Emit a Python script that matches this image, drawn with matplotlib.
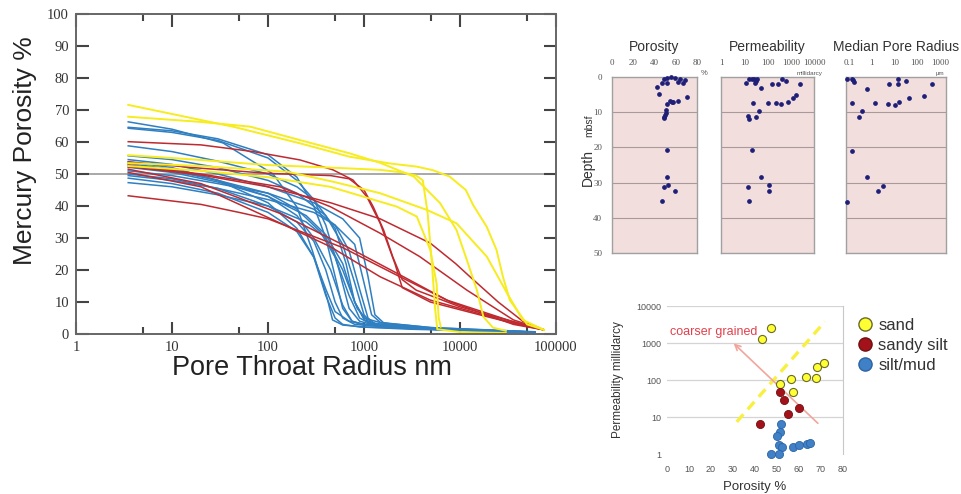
import matplotlib
matplotlib.use("Agg")
import matplotlib.pyplot as plt
from matplotlib.lines import Line2D
from matplotlib.ticker import FixedLocator, NullFormatter

plt.rcParams['font.family'] = ['Liberation Sans', 'DejaVu Sans']

# ---------------- main chart: pore throat radius (nm) vs mercury porosity (%)
blue_curves = [
    ([3.5, 10, 34, 113, 200, 290, 410, 470, 600, 1000, 5000, 30000, 60000],
     [66.3, 64, 59.7, 50, 39.7, 26, 11.6, 4.4, 2.8, 2.2, 1.5, 0.8, 0.5]),
    ([3.5, 10, 30, 100, 200, 300, 400, 500, 600, 750, 1000, 5000, 60000],
     [64.6, 63.5, 61, 56, 49, 40, 30, 18, 8, 4, 3, 1.5, 0.5]),
    ([3.5, 10, 30, 100, 200, 300, 400, 550, 700, 900, 1200, 5000, 60000],
     [64.3, 63, 60.5, 55, 48, 42, 34, 20, 8, 4, 3, 1.5, 0.6]),
    ([3.5, 10, 30, 100, 200, 300, 500, 650, 800, 1000, 1500, 5000, 60000],
     [58.8, 57, 54, 50, 46, 42, 33, 22, 10, 5, 3.5, 1.5, 0.5]),
    ([3.5, 10, 30, 100, 200, 400, 600, 800, 1000, 1200, 2000, 10000, 60000],
     [55.7, 54.5, 52, 48, 44, 37, 28, 16, 6, 3.5, 2.5, 1.2, 0.5]),
    ([3.5, 10, 30, 100, 200, 300, 400, 500, 600, 900, 3000, 60000],
     [53.8, 52, 48, 41, 33, 24, 12, 5, 3, 2.2, 1.5, 0.5]),
    ([3.5, 10, 30, 100, 200, 300, 450, 600, 750, 1000, 3000, 60000],
     [53.3, 51.5, 48, 43, 37, 30, 20, 9, 4, 2.8, 1.8, 0.5]),
    ([3.5, 10, 30, 100, 200, 350, 500, 700, 900, 1200, 3000, 60000],
     [52.8, 51, 48, 44, 39, 32, 24, 12, 5, 3, 2, 0.6]),
    ([3.5, 10, 30, 100, 250, 400, 600, 800, 1000, 1300, 3000, 60000],
     [52.1, 50.5, 47.5, 43, 37, 31, 22, 10, 4.5, 3, 2, 0.6]),
    ([3.5, 10, 30, 100, 200, 300, 400, 500, 700, 1000, 5000, 60000],
     [48.7, 47, 44, 38, 32, 24, 14, 7, 4, 3, 1.5, 0.5]),
    ([3.5, 10, 30, 100, 250, 400, 600, 850, 1100, 1400, 5000, 60000],
     [47.3, 46, 43.5, 40, 35, 30, 20, 8, 4, 3, 1.8, 0.6]),
    ([3.5, 10, 30, 100, 300, 500, 700, 900, 1100, 1300, 3000, 60000],
     [51, 49.5, 47, 44, 39, 34, 26, 14, 5, 3.2, 2, 0.5]),
    ([3.5, 10, 30, 100, 200, 300, 400, 500, 600, 800, 2000, 60000],
     [50, 48.5, 45.5, 40, 35, 29, 20, 10, 5, 3, 2, 0.5]),
    ([3.5, 10, 30, 100, 300, 600, 900, 1100, 1300, 1600, 5000, 60000],
     [54.5, 53, 50, 46, 41, 36, 30, 18, 6, 3.5, 2, 0.6]),
    ([3.5, 10, 30, 100, 300, 500, 800, 1000, 1200, 1500, 5000, 60000],
     [49.5, 48, 45.5, 42, 38, 34, 28, 16, 6, 3.5, 2, 0.7]),
]

red_curves = [
    ([3.5, 20, 70, 215, 475, 770, 1070, 1470, 2100, 2500, 4900, 16000, 40000, 75000],
     [60.1, 59.1, 57, 54.4, 51.3, 48.1, 42.9, 34.7, 22, 14.5, 10, 6, 3, 1.3]),
    ([3.5, 20, 100, 450, 700, 1000, 1250, 1600, 2000, 2500, 3500, 10000, 30000, 75000],
     [53.8, 51.8, 50.2, 49.5, 48.5, 45, 39.7, 32.5, 24, 17, 13.7, 8.5, 4.5, 1.3]),
    ([3.5, 20, 100, 450, 1470, 4900, 9000, 12800, 25000, 45000, 75000],
     [52.3, 49.7, 46, 41, 36, 28.4, 22, 17.8, 10, 4, 1.3]),
    ([3.5, 20, 133, 445, 1470, 3800, 11800, 36000, 75000],
     [52.8, 50, 46, 39.8, 31.5, 24.2, 13.7, 4.4, 1.3]),
    ([3.5, 20, 133, 660, 2200, 7300, 36000, 75000],
     [51.5, 47, 37.7, 27.3, 19, 10.6, 3.8, 1.3]),
    ([3.5, 20, 133, 445, 1470, 4900, 36000, 75000],
     [50.5, 46, 34.7, 27.3, 17.9, 10.6, 3.4, 1.3]),
    ([3.5, 20, 50, 100, 200, 600, 2000, 8000, 36000, 75000],
     [43.2, 40.5, 38, 36, 32.5, 27, 19, 10, 3, 1.3]),
]

yellow_curves = [
    ([3.5, 43, 215, 710, 1850, 3550, 5200, 7800, 11500, 13700, 19000, 24000, 28000, 33000, 50000, 75000],
     [71.6, 64.8, 59.6, 55.4, 53.3, 52.3, 51.2, 49.2, 45, 40.3, 33.5, 26.3, 17.9, 10.6, 3, 1.3]),
    ([3.5, 19.5, 65, 215, 700, 1470, 3300, 6200, 9200, 11800, 15000, 17500, 22000, 30000],
     [67.9, 66.3, 64.8, 60.6, 56.5, 53.5, 49.2, 40.9, 32.5, 23.1, 13.7, 5.4, 2, 1]),
    ([3.5, 19.5, 98, 445, 1470, 2500, 3500, 4100, 4600, 5100, 5500, 5800, 10000, 30000],
     [55.9, 54.4, 52.8, 52, 51.3, 50.5, 49.5, 48, 37.8, 22, 8, 1.5, 0.6, 0.3]),
    ([3.5, 20, 160, 475, 1470, 4500, 9200, 19000, 31000, 45000, 75000],
     [53.4, 52.5, 50.7, 47.6, 44, 38.8, 34.6, 24.2, 12.7, 4.4, 1.3]),
    ([3.5, 20, 100, 445, 2200, 3550, 4900, 5700, 6000, 6300],
     [52.5, 51, 49, 46, 39.8, 36.7, 26.3, 15.8, 5, 2.3]),
]

x_ticks = [1, 10, 100, 1000, 10000, 100000]
x_tick_labels = ['1', '10', '100', '1000', '10000', '100000']
x_minor = [5, 50, 500, 5000, 50000]

# ---------------- depth profiles (value, depth mbsf)
por_val = [42, 44.2, 46.8, 49.2, 51.5, 51.5, 55.5, 59.3, 62.4, 64, 66.5, 68.7, 70.3, 62.4, 56.2,
           57.1, 54.6, 51.5, 50.8, 50.5, 49.9, 49.2, 48.9, 51.5, 51.5, 49.2, 53, 59.6, 47]
por_dep = [2.75, 4.9, 1.8, 0.6, 1.6, 0.4, 0.1, 0.4, 1.3, 0.7, 1.8, 0.9, 5.8, 6.7, 7.0,
           7.2, 6.8, 7.7, 9.4, 10.3, 10.8, 11.3, 11.7, 20.7, 28.3, 31.2, 30.7, 32.3, 35.1]

perm_val = [11.5, 16.5, 21, 27, 32, 30, 34, 53, 151, 294, 405, 627, 2500, 24.5, 108, 225, 380, 740,
            1200, 1700, 43, 31, 15, 16.5, 21, 53, 15, 116, 116, 16.5]
perm_dep = [1.8, 0.66, 0.66, 0.66, 1.05, 1.6, 0.66, 3.2, 2.0, 2.1, 0.57, 1.1, 2.1, 7.5, 7.3, 7.5, 7.8, 7.0,
            6.1, 5.1, 9.6, 11.4, 11.1, 12.0, 20.7, 28.3, 31.2, 30.7, 32.4, 35.2]

mpr_val = [0.078, 0.13, 0.155, 0.17, 0.6, 5.9, 13.8, 13.8, 32, 450, 0.13, 1.4, 5.4, 10.4, 16, 44, 200,
           0.36, 0.27, 0.13, 0.6, 3.2, 1.95, 0.078]
mpr_dep = [0.66, 0.66, 0.85, 1.3, 3.4, 2.0, 0.66, 2.1, 1.1, 2.1, 7.5, 7.3, 7.7, 8.0, 7.0, 6.1, 5.3,
           9.7, 11.5, 21, 28.5, 30.9, 32.4, 35.4]

# ---------------- porosity vs permeability
sand_por = [43, 47.1, 51.4, 56.2, 57.4, 63, 67.6, 68.2, 71.2]
sand_perm = [1260, 2570, 78, 105, 47, 123, 115, 220, 280]
ssilt_por = [42.3, 51.5, 53.2, 55.1, 59.9]
ssilt_perm = [6.5, 47, 28, 12, 18]
mud_por = [51.7, 51.5, 49.8, 50.9, 52.1, 47.1, 50.9, 57.4, 59.9, 63.5, 65]
mud_perm = [6.5, 4, 3.1, 1.75, 1.5, 1.0, 1.0, 1.5, 1.75, 1.85, 2.0]
trend_por = [31.7, 71.8]
trend_perm = [7.4, 3800]
arrow_from = (69.5, 6)
arrow_to = (29.4, 1100)

W, H = 962, 494
fig = plt.figure(figsize=(W / 100, H / 100), dpi=100)


def rect(x0, y0, x1, y1):
    return [x0 / W, 1 - y1 / H, (x1 - x0) / W, (y1 - y0) / H]


# ---- main axes
ax = fig.add_axes(rect(76, 14, 556, 334))
for xs, ys in blue_curves:
    ax.plot(xs, ys, color='#2f7fc1', lw=1.1)
for xs, ys in red_curves:
    ax.plot(xs, ys, color='#bf2a30', lw=1.1)
for xs, ys in yellow_curves:
    ax.plot(xs, ys, color='#f6ec1e', lw=1.4)
ax.axhline(50, color='#9a9a9a', lw=1.2, zorder=0.5)
ax.set_xscale('log')
ax.set_xlim(1, 1e5)
ax.set_ylim(0, 100)
ax.xaxis.set_major_locator(FixedLocator(x_ticks))
ax.set_xticklabels(x_tick_labels)
ax.xaxis.set_minor_locator(FixedLocator(x_minor))
ax.xaxis.set_minor_formatter(NullFormatter())
ax.set_yticks(range(0, 101, 10))
ax.tick_params(which='major', direction='in', length=9, width=1.5, top=True, right=True,
               color='#444444', labelcolor='#333333', labelsize=10.5, pad=5,
               labelfontfamily='Liberation Serif')
ax.tick_params(which='minor', direction='in', length=5, width=1.5, top=True, color='#444444')
for s in ax.spines.values():
    s.set_color('#666666')
    s.set_linewidth(1.4)

fig.text(25 / W, 1 - 151 / H, 'Mercury Porosity %', rotation=90, ha='center', va='center',
         fontsize=19, color='#222222')
fig.text(312 / W, 1 - 368 / H, 'Pore Throat Radius nm', ha='center', va='center',
         fontsize=19.5, color='#222222')


# ---- depth panels
def depth_panel(r, xs, ds, title, show_y):
    a = fig.add_axes(r)
    a.set_facecolor('#f2dedd')
    a.plot(xs, ds, 'o', ms=2.4, color='#1f1f78', ls='none', clip_on=False, zorder=3)
    a.set_ylim(50, 0)
    a.set_yticks(range(0, 51, 10))
    for d in (10, 20, 30, 40):
        a.axhline(d, color='#a89a9a', lw=0.8, zorder=1)
    a.xaxis.tick_top()
    a.tick_params(length=0, labelsize=6.5, pad=7, labelcolor='#555555',
                  labelfontfamily='Liberation Serif', labelleft=show_y)
    for s in a.spines.values():
        s.set_color('#a0a0a0')
        s.set_linewidth(1.0)
    a.text(0.5, 1.17, title, transform=a.transAxes, ha='center', va='center',
           fontsize=10, color='#333333')
    return a


a1 = depth_panel(rect(612, 77, 697, 253), por_val, por_dep, 'Porosity', True)
a1.set_xlim(0, 80)
a1.set_xticks([0, 20, 40, 60, 80])
a1.text(1.04, 1.01, '%', transform=a1.transAxes, fontsize=5.5, color='#555555')

a2 = depth_panel(rect(721, 77, 814, 253), perm_val, perm_dep, 'Permeability', False)
a2.set_xscale('log')
a2.set_xlim(1, 10000)
a2.set_xticks([1, 10, 100, 1000, 10000])
a2.set_xticklabels(['1', '10', '100', '1000', '10000'])
a2.xaxis.set_minor_locator(FixedLocator([]))
a2.text(0.95, 1.003, 'millidarcy', transform=a2.transAxes, ha='center', va='bottom',
        fontsize=4.5, color='#555555')

a3 = depth_panel(rect(846, 77, 946, 253), mpr_val, mpr_dep, 'Median Pore Radius', False)
a3.set_xscale('log')
a3.set_xlim(0.074, 1820)
a3.set_xticks([0.1, 1, 10, 100, 1000])
a3.set_xticklabels(['0.1', '1', '10', '100', '1000'])
a3.xaxis.set_minor_locator(FixedLocator([]))
a3.text(0.94, 1.003, 'μm', transform=a3.transAxes, ha='center', va='bottom',
        fontsize=4.5, color='#555555')

fig.text(588 / W, 1 - 168 / H, 'Depth', rotation=90, ha='center', va='center', fontsize=10,
         color='#333333')
fig.text(589 / W, 1 - 126 / H, 'mbsf', rotation=90, ha='center', va='center', fontsize=7.5,
         color='#333333')

# ---- porosity / permeability scatter
b = fig.add_axes(rect(667, 306, 843, 454))
b.set_yscale('log')
b.set_xlim(0, 80)
b.set_ylim(1, 10000)
for g in (10, 100, 1000, 10000):
    b.axhline(g, color='#d4d4d4', lw=0.9, zorder=0)
b.plot(trend_por, trend_perm, ls=(0, (3, 2)), color='#f8f040', lw=2.4, zorder=1)
b.annotate('', xy=arrow_to, xytext=arrow_from,
           arrowprops=dict(arrowstyle='->', color='#f2a59c', lw=1.2), zorder=1)
b.text(1.5, 2000, 'coarser grained', color='#e2404c', fontsize=9, va='center')
b.scatter(sand_por, sand_perm, s=34, c='#ffff33', edgecolors='#6a6a2a', linewidths=0.8,
          zorder=3, clip_on=False)
b.scatter(ssilt_por, ssilt_perm, s=34, c='#a3121a', edgecolors='#701010', linewidths=0.6,
          zorder=3, clip_on=False)
b.scatter(mud_por, mud_perm, s=34, c='#3f80c6', edgecolors='#2c64a6', linewidths=0.6,
          zorder=3, clip_on=False)
b.set_xticks(range(0, 81, 10))
b.set_yticks([1, 10, 100, 1000, 10000])
b.set_yticklabels(['1', '10', '100', '1000', '10000'])
b.yaxis.set_minor_locator(FixedLocator([]))
b.tick_params(axis='x', length=0, labelsize=6.5, labelcolor='#555555', pad=8)
b.tick_params(axis='y', length=0, labelsize=6.5, labelcolor='#555555', pad=4)
for k in ('left', 'bottom', 'top'):
    b.spines[k].set_visible(False)
b.spines['right'].set_color('#c8c8c8')
b.set_xlabel('Porosity %', fontsize=9.5, color='#333333', labelpad=5)
b.set_ylabel('Permeability millidarcy', fontsize=8.5, color='#333333', labelpad=9)

handles = [
    Line2D([], [], marker='o', ls='none', ms=9.5, mfc='#ffff33', mec='#6a6a2a', label='sand'),
    Line2D([], [], marker='o', ls='none', ms=9.5, mfc='#a3121a', mec='#701010', label='sandy silt'),
    Line2D([], [], marker='o', ls='none', ms=9.5, mfc='#3f80c6', mec='#2c64a6', label='silt/mud'),
]
fig.legend(handles=handles, loc='upper left', bbox_to_anchor=(856 / W, 1 - 318 / H),
           frameon=False, fontsize=12, handletextpad=0.25, labelspacing=0.3,
           borderaxespad=0, borderpad=0, handlelength=1.1, labelcolor='#333333')

fig.savefig('out.png', dpi=100)
